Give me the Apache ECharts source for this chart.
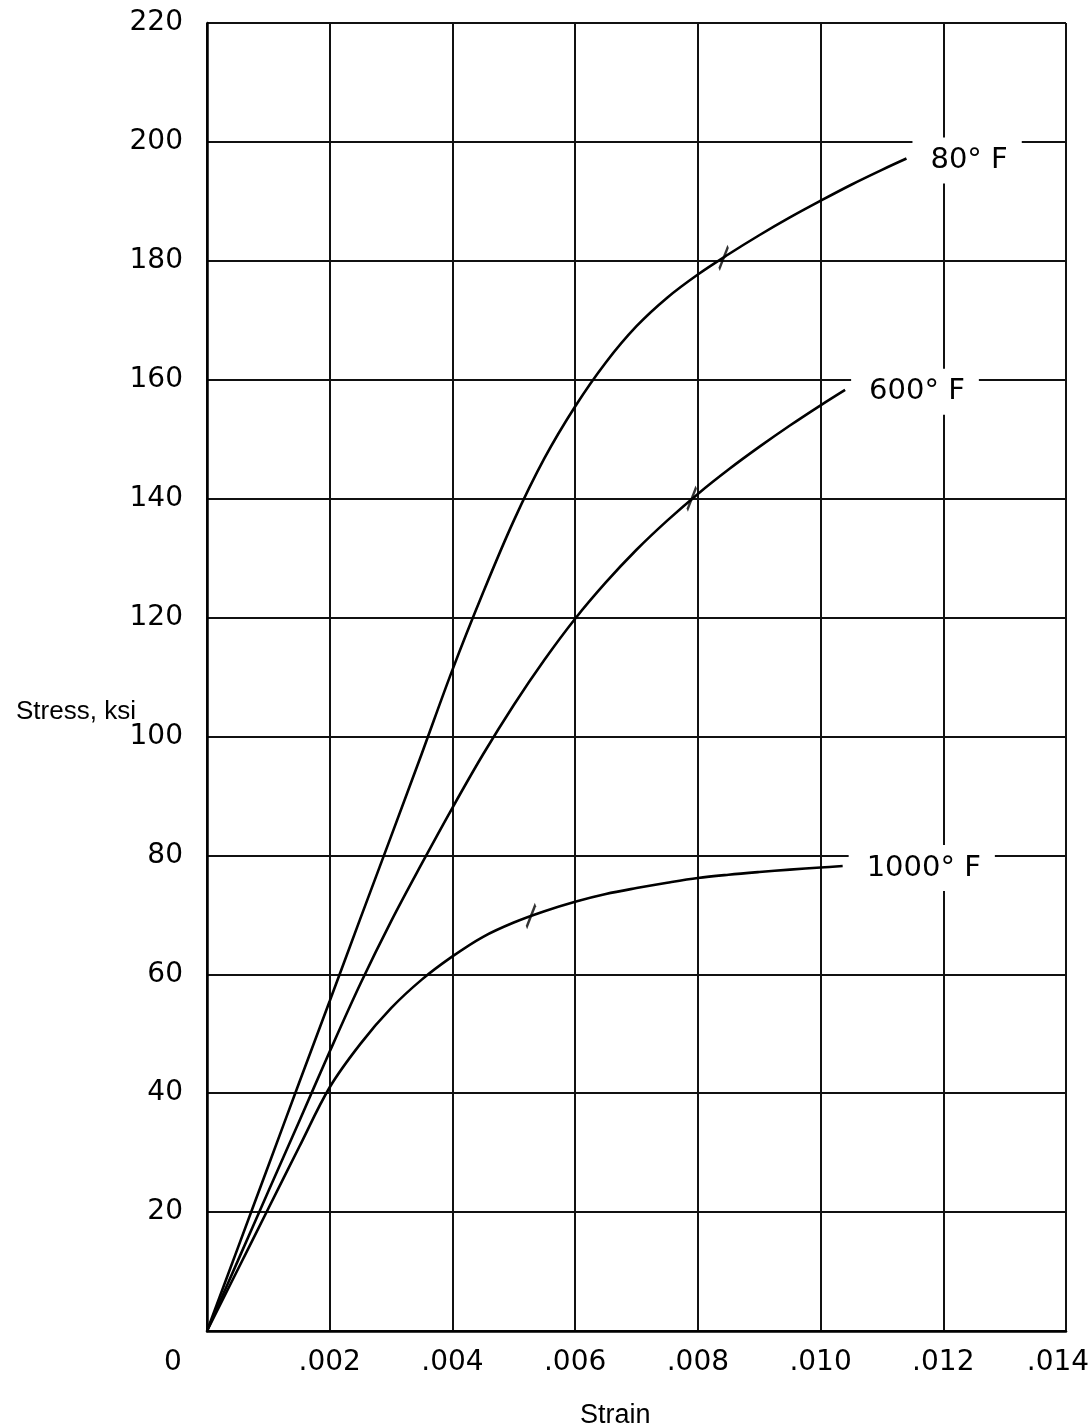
<!DOCTYPE html>
<html>
<head>
<meta charset="utf-8">
<script src="https://cdn.jsdelivr.net/npm/echarts@6/dist/echarts.min.js"></script>
<style>
html,body{margin:0;padding:0;background:#fff;overflow:hidden;}
#chart{width:1091px;height:1427px;}
</style>
</head>
<body>
<div id="chart"></div>
<script>
// ---- data ----
const curveNames = ['80° F', '600° F', '1000° F'];

const strain80 = [0, 0.0005, 0.001, 0.0015, 0.002, 0.0025, 0.003, 0.0035, 0.004, 0.0045, 0.005, 0.0055, 0.006, 0.0065, 0.007, 0.0075, 0.008, 0.0085, 0.009, 0.0095, 0.010, 0.0105, 0.011, 0.0114];
const stress80 = [0, 13.9, 27.8, 41.7, 55.5, 69.4, 83.2, 97.1, 111.2, 124.2, 136.3, 146.8, 155.5, 162.9, 169.0, 173.8, 177.7, 181.1, 184.3, 187.3, 190.1, 192.8, 195.3, 197.2];

const strain600 = [0, 0.0005, 0.001, 0.0015, 0.002, 0.0025, 0.003, 0.0035, 0.004, 0.0045, 0.005, 0.0055, 0.006, 0.0065, 0.007, 0.0075, 0.008, 0.0085, 0.009, 0.0095, 0.010, 0.0104];
const stress600 = [0, 11.75, 23.5, 35.2, 47.0, 58.4, 68.9, 78.6, 88.0, 97.0, 105.3, 112.9, 119.8, 125.9, 131.4, 136.3, 140.8, 144.9, 148.7, 152.3, 155.7, 158.3];

const strain1000 = [0, 0.0005, 0.001, 0.0015, 0.002, 0.0025, 0.003, 0.0035, 0.004, 0.0045, 0.005, 0.0055, 0.006, 0.0065, 0.007, 0.0075, 0.008, 0.0085, 0.009, 0.0095, 0.010, 0.01036];
const stress1000 = [0, 10.3, 20.6, 30.9, 41.0, 48.3, 54.3, 59.1, 63.0, 66.3, 68.7, 70.6, 72.2, 73.5, 74.5, 75.4, 76.2, 76.75, 77.2, 77.6, 77.96, 78.2];

// small slash marks on each curve
const markStrain = [0.00842, 0.0079, 0.00528];
const markStress = [180.5, 140.0, 69.8];

const xTicks = [0, 0.002, 0.004, 0.006, 0.008, 0.010, 0.012, 0.014];
const yTicks = [0, 20, 40, 60, 80, 100, 120, 140, 160, 180, 200, 220];

// ---- chart ----
const zip = (a, b) => a.map((v, i) => [v, b[i]]);
const tickFont = 'DejaVu Sans';
const chart = echarts.init(document.getElementById('chart'), null, {renderer: 'canvas'});

function curve(name, xs, ys) {
  return {
    name: name,
    type: 'line',
    data: zip(xs, ys),
    smooth: 0.35,
    symbol: 'none',
    lineStyle: {color: '#000', width: 2.6},
    z: 3,
    endLabel: {
      show: true,
      formatter: name,
      distance: 6,
      offset: [0, 2],
      color: '#000',
      fontFamily: tickFont,
      fontSize: 29,
      lineHeight: 30,
      backgroundColor: '#fff',
      padding: [8, 14, 8, 18]
    }
  };
}

const xMax = xTicks[xTicks.length - 1];

chart.setOption({
  animation: false,
  backgroundColor: '#fff',
  title: [
    {text: 'Stress, ksi', left: 11, top: 694,
     textStyle: {fontFamily: 'Liberation Sans', fontSize: 26, fontWeight: 'normal', color: '#000'}},
    {text: 'Strain', left: 575, top: 1397,
     textStyle: {fontFamily: 'Liberation Sans', fontSize: 27, fontWeight: 'normal', color: '#000'}}
  ],
  grid: {left: 207, right: 25, top: 23, bottom: 96, containLabel: false, outerBoundsMode: 'none'},
  xAxis: {
    type: 'value',
    min: 0, max: xMax, interval: xTicks[1] - xTicks[0],
    axisLine: {show: true, lineStyle: {color: '#000', width: 2.5}},
    axisTick: {show: false},
    splitLine: {show: true, lineStyle: {color: '#111', width: 2}},
    axisLabel: {
      margin: 18,
      color: '#000',
      fontFamily: tickFont,
      fontSize: 28,
      formatter: function (v) {
        if (v === 0) return '{z|0}';
        const s = '.' + String(Math.round(v * 1000)).padStart(3, '0');
        return Math.abs(v - xMax) < 1e-9 ? '{e|' + s + '}' : s;
      },
      rich: {
        z: {fontFamily: tickFont, fontSize: 28, color: '#000', padding: [0, 68, 0, 0]},
        e: {fontFamily: tickFont, fontSize: 28, color: '#000', padding: [0, 16, 0, 0]}
      }
    }
  },
  yAxis: {
    type: 'value',
    min: 0, max: yTicks[yTicks.length - 1], interval: yTicks[1] - yTicks[0],
    axisLine: {show: true, lineStyle: {color: '#000', width: 2.5}},
    axisTick: {show: false},
    splitLine: {show: true, lineStyle: {color: '#111', width: 2}},
    axisLabel: {
      margin: 24,
      color: '#000',
      fontFamily: tickFont,
      fontSize: 28,
      formatter: function (v) { return v === 0 ? '' : String(v); }
    }
  },
  series: [
    curve(curveNames[0], strain80, stress80),
    curve(curveNames[1], strain600, stress600),
    curve(curveNames[2], strain1000, stress1000),
    {
      name: 'marks',
      type: 'scatter',
      data: zip(markStrain, markStress),
      symbol: 'path://M9,0L0,23',
      symbolSize: [9, 23],
      itemStyle: {color: 'rgba(0,0,0,0)', borderColor: '#000', borderWidth: 3},
      z: 4,
      silent: true
    }
  ]
});
</script>
</body>
</html>
